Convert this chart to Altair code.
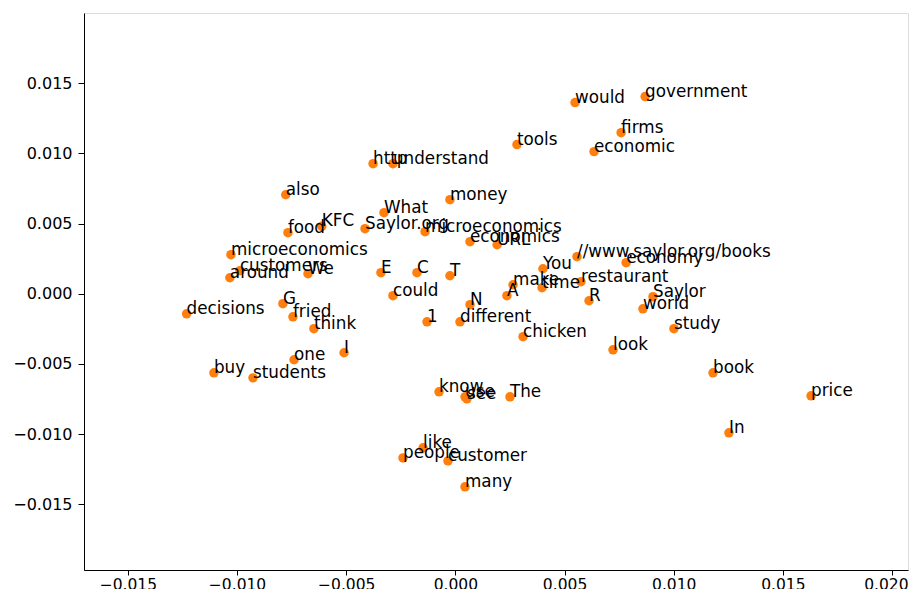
import altair as alt
import pandas as pd

words = ["government", "would", "firms", "economic", "tools", "http", "understand",
         "also", "money", "What", "KFC", "food", "Saylor.org", "microeconomics",
         "economics", "URL", "microeconomics", "around", "customers", "We",
         "decisions", "G", "fried", "think", "I", "one", "buy", "students",
         "E", "C", "T", "could", "1", "N", "different", "A", "make", "You", "time",
         "restaurant", "//www.saylor.org/books", "economy", "R", "Saylor", "world",
         "study", "chicken", "look", "book", "price", "In", "know", "see", "use",
         "The", "like", "people", "customer", "many"]

xs = [0.00869, 0.00548, 0.00759, 0.00635, 0.00282, -0.00377, -0.00286,
      -0.00777, -0.00025, -0.00327, -0.00612, -0.00767, -0.00414, -0.00139,
      0.00067, 0.00191, -0.01028, -0.01033, -0.00987, -0.00675,
      -0.01231, -0.00790, -0.00744, -0.00648, -0.00510, -0.00739, -0.01106, -0.00927,
      -0.00341, -0.00176, -0.00025, -0.00286, -0.00130, 0.00067, 0.00021, 0.00236, 0.00264, 0.00401, 0.00397,
      0.00575, 0.00557, 0.00782, 0.00612, 0.00905, 0.00859,
      0.01001, 0.00310, 0.00722, 0.01180, 0.01629, 0.01253, -0.00075, 0.00053, 0.00044,
      0.00250, -0.00148, -0.00240, -0.00034, 0.00044]

ys = [0.01404, 0.01361, 0.01147, 0.01012, 0.01062, 0.00926, 0.00926,
      0.00705, 0.00670, 0.00577, 0.00480, 0.00435, 0.00463, 0.00442,
      0.00371, 0.00349, 0.00278, 0.00114, 0.00164, 0.00143,
      -0.00143, -0.00071, -0.00164, -0.00249, -0.00420, -0.00470, -0.00563, -0.00599,
      0.00150, 0.00150, 0.00128, -0.00014, -0.00200, -0.00078, -0.00200, -0.00014, 0.00064, 0.00178, 0.00043,
      0.00086, 0.00264, 0.00221, -0.00050, -0.00021, -0.00107,
      -0.00249, -0.00306, -0.00399, -0.00563, -0.00727, -0.00990, -0.00698, -0.00748, -0.00734,
      -0.00734, -0.01097, -0.01169, -0.01190, -0.01375]

x_ticks = [-0.015, -0.010, -0.005, 0.000, 0.005, 0.010, 0.015, 0.020]
y_ticks = [-0.015, -0.010, -0.005, 0.000, 0.005, 0.010, 0.015]

df = pd.DataFrame({"word": words, "x": xs, "y": ys})

FONT = "DejaVu Sans"

xenc = alt.X("x:Q", scale=alt.Scale(domain=[-0.01701, 0.02073], nice=False, zero=False),
             axis=alt.Axis(values=x_ticks, format=".3f", title=None, grid=False,
                           tickSize=5, labelPadding=2, labelFontSize=15.5,
                           labelFlush=20, labelFlushOffset=16,
                           labelFont=FONT, labelColor="black", tickColor="black",
                           domainColor="black"))
yenc = alt.Y("y:Q", scale=alt.Scale(domain=[-0.01967, 0.01999], nice=False, zero=False),
             axis=alt.Axis(values=y_ticks, format=".3f", title=None, grid=False,
                           tickSize=6, labelPadding=6, labelFontSize=16,
                           labelFont=FONT, labelColor="black", tickColor="black",
                           domainColor="black"))

base = alt.Chart(df).encode(x=xenc, y=yenc)

points = base.mark_point(filled=True, color="#ff7f0e", opacity=1, size=90)
labels = base.mark_text(align="left", baseline="alphabetic", font=FONT,
                        fontSize=16.8, color="black").encode(text="word:N")

chart = (points + labels).properties(
    width=824, height=557,
    autosize=alt.AutoSizeParams(type="none"),
    padding={"left": 76, "top": 5, "right": 1, "bottom": 19},
).configure_view(stroke="black", strokeWidth=1.2).configure(background="white")

chart.save("out.html", embed_options={"renderer": "svg", "actions": False})
